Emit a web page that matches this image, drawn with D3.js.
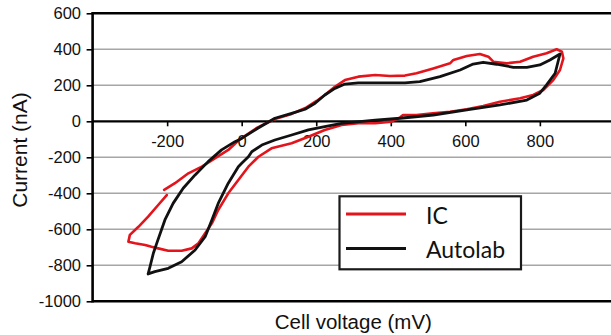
<!DOCTYPE html>
<html>
<head>
<meta charset="utf-8">
<script src="https://cdn.jsdelivr.net/npm/d3@7"></script>
<style>
  html, body { margin: 0; padding: 0; background: #fff; }
  svg { display: block; }
</style>
</head>
<body>
<svg id="chart" width="611" height="335"></svg>
<script>
// ---- Data ----
const xTicks = [-200, 0, 200, 400, 600, 800];
const yTicks = [-1000, -800, -600, -400, -200, 0, 200, 400, 600];
const seriesNames = ["IC", "Autolab"];
const seriesColors = ["#e3141b", "#111111"];

// IC: voltage (mV) and current (nA), in sweep order
const icVoltage = [-208, -179, -143, -107, -72, -36, -5, 42, 89, 134, 174, 201, 223, 250, 277, 313, 358, 398, 438, 469, 514, 559, 568, 604, 639, 662, 675, 711, 747, 782, 818, 845, 859, 863, 854, 836, 809, 782, 747, 693, 648, 604, 559, 513, 469, 433, 425, 402, 358, 313, 268, 223, 179, 134, 80, 45, 18, -9, -36, -63, -80, -98, -116, -134, -161, -197, -224, -242, -259, -286, -304, -300, -277, -251, -224, -201];
const icCurrent = [-381, -344, -289, -252, -206, -159, -100, -35, 13, 41, 77, 113, 146, 192, 229, 248, 257, 252, 254, 267, 294, 322, 341, 363, 374, 359, 331, 322, 331, 359, 378, 400, 387, 350, 285, 229, 174, 146, 128, 109, 85, 67, 53, 44, 35, 35, 22, -2, -11, -11, -21, -48, -86, -122, -150, -197, -252, -326, -400, -493, -567, -622, -678, -706, -719, -719, -706, -697, -687, -678, -669, -631, -586, -530, -465, -410];

// Autolab: voltage (mV) and current (nA), in sweep order
const autolabVoltage = [-251, -246, -237, -228, -206, -184, -157, -125, -90, -54, -18, 0, 42, 89, 134, 170, 197, 223, 250, 277, 313, 360, 438, 478, 532, 586, 621, 648, 684, 729, 765, 800, 827, 854, 841, 818, 800, 765, 693, 604, 514, 425, 358, 268, 223, 179, 134, 89, 54, 27, 18, 0, -9, -36, -63, -80, -98, -125, -161, -197, -233, -251];
const autolabCurrent = [-848, -808, -733, -678, -548, -456, -372, -298, -224, -159, -113, -95, -40, 17, 44, 67, 100, 146, 183, 207, 214, 214, 214, 220, 248, 285, 318, 328, 317, 300, 300, 313, 341, 374, 267, 202, 156, 118, 91, 63, 35, 17, 7, -11, -30, -48, -76, -104, -132, -169, -197, -233, -252, -344, -456, -548, -641, -715, -780, -817, -835, -848];

// ---- Chart ----
const svg = d3.select("#chart");
const x = d3.scaleLinear().domain([-400, 1000]).range([92.6, 614.4]);
const y = d3.scaleLinear().domain([-1000, 600]).range([301.3, 13.3]);
const plotRight = 611;
const fmt = d => String(d);

const defs = svg.append("defs");
defs.append("filter").attr("id", "blur")
  .attr("x", "-20%").attr("y", "-200%").attr("width", "140%").attr("height", "500%")
  .append("feGaussianBlur").attr("stdDeviation", 1.4);

// gridlines
svg.append("g").selectAll("line")
  .data(yTicks.filter(v => v !== 0 && v !== 600 && v !== -1000))
  .join("line")
  .attr("x1", x(-400)).attr("x2", plotRight)
  .attr("y1", d => y(d)).attr("y2", d => y(d))
  .attr("stroke", "#a6a6a6").attr("stroke-width", 1.5);

// black border lines (top, bottom) and zero line
svg.append("g").selectAll("line")
  .data([600, -1000, 0])
  .join("line")
  .attr("x1", x(-400)).attr("x2", plotRight)
  .attr("y1", d => y(d)).attr("y2", d => y(d))
  .attr("stroke", "#000").attr("stroke-width", d => d === 0 ? 2.2 : 2.6);

// y axis
const yAxis = d3.axisLeft(y).tickValues(yTicks).tickSize(6).tickPadding(5.6).tickFormat(fmt);
const gy = svg.append("g").attr("transform", `translate(${x(-400)},0)`).call(yAxis);
gy.select(".domain").remove();
gy.selectAll(".tick line").attr("stroke", "#000").attr("stroke-width", 1.6);
gy.selectAll(".tick text")
  .attr("font-family", "'Liberation Sans', Arial, sans-serif")
  .attr("font-size", "16.5px").attr("fill", "#111");
svg.append("line")
  .attr("x1", x(-400)).attr("x2", x(-400))
  .attr("y1", y(600) - 1.3).attr("y2", y(-1000) + 1.3)
  .attr("stroke", "#000").attr("stroke-width", 2.6);

// x axis at zero
const xAxis = d3.axisBottom(x).tickValues(xTicks).tickSize(5).tickPadding(8.7).tickFormat(fmt);
const gx = svg.append("g").attr("transform", `translate(0,${y(0)})`).call(xAxis);
gx.select(".domain").remove();
gx.selectAll(".tick line").attr("stroke", "#000").attr("stroke-width", 1.6);
gx.selectAll(".tick text")
  .attr("font-family", "'Liberation Sans', Arial, sans-serif")
  .attr("font-size", "16.5px").attr("fill", "#111");

// series
const line = d3.line().x(d => x(d[0])).y(d => y(d[1])).curve(d3.curveLinear);
const icData = icVoltage.map((v, i) => [v, icCurrent[i]]);
const autolabData = autolabVoltage.map((v, i) => [v, autolabCurrent[i]]);

svg.append("path").datum(icData)
  .attr("d", line).attr("fill", "none")
  .attr("stroke", seriesColors[0]).attr("stroke-width", 2.6)
  .attr("stroke-linejoin", "round").attr("stroke-linecap", "round");
svg.append("path").datum(autolabData)
  .attr("d", line).attr("fill", "none")
  .attr("stroke", seriesColors[1]).attr("stroke-width", 2.8)
  .attr("stroke-linejoin", "round").attr("stroke-linecap", "round");

// axis titles
svg.append("text")
  .attr("x", 353.3).attr("y", 328.5)
  .attr("text-anchor", "middle")
  .attr("font-family", "'Liberation Sans', Arial, sans-serif")
  .attr("font-size", "20.5px").attr("fill", "#111")
  .text("Cell voltage (mV)");
svg.append("text")
  .attr("transform", "translate(26.5,150) rotate(-90)")
  .attr("text-anchor", "middle")
  .attr("font-family", "'Liberation Sans', Arial, sans-serif")
  .attr("font-size", "21px").attr("fill", "#111")
  .text("Current (nA)");

// legend
const lg = svg.append("g");
lg.append("rect")
  .attr("x", 339.5).attr("y", 196.3).attr("width", 181.5).attr("height", 73)
  .attr("fill", "#fff").attr("stroke", "#1a1a1a").attr("stroke-width", 2.2);
const legendRows = [214, 248.5];
seriesNames.forEach((name, i) => {
  const yy = legendRows[i];
  lg.append("line")
    .attr("x1", 347).attr("x2", 405).attr("y1", yy + 4).attr("y2", yy + 4)
    .attr("stroke", "#9a9a9a").attr("stroke-width", 4).attr("opacity", 0.8)
    .attr("filter", "url(#blur)");
  lg.append("line")
    .attr("x1", 346).attr("x2", 406).attr("y1", yy).attr("y2", yy)
    .attr("stroke", seriesColors[i]).attr("stroke-width", 2.8);
  lg.append("text")
    .attr("x", 426).attr("y", yy + 9.5)
    .attr("font-family", "Lato, 'Open Sans', sans-serif")
    .attr("font-size", "23px").attr("fill", "#111")
    .text(name);
});
</script>
</body>
</html>
